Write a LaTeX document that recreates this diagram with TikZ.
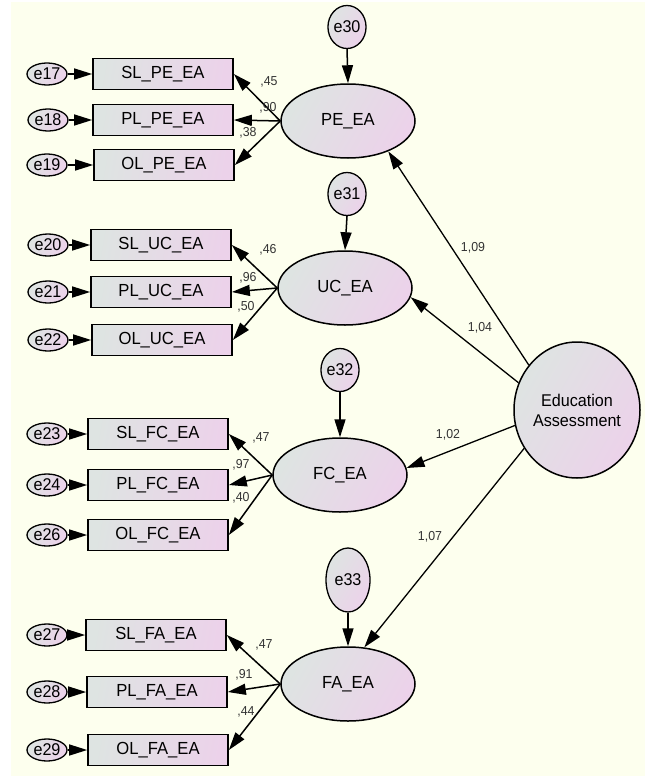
\documentclass[tikz,border=0pt]{standalone}
\usepackage{fontspec}
\setmainfont{Liberation Sans}[FakeStretch=0.95]
\usetikzlibrary{arrows.meta,shapes.geometric}
\definecolor{bg}{RGB}{253,255,238}
\definecolor{lg}{RGB}{222,228,226}
\definecolor{pk}{RGB}{236,210,234}
\begin{document}
\begin{tikzpicture}[x=1pt,y=-1pt,
  obs/.style={draw, line width=1.7pt, rectangle, minimum width=140pt, minimum height=31pt, inner sep=0pt,
    left color=lg, right color=pk, shading angle=80, font=\fontsize{17.5}{17.5}\selectfont},
  err/.style={draw, line width=1.3pt, ellipse, minimum width=40pt, minimum height=22pt, inner sep=0pt,
    left color=lg, right color=pk, shading angle=60, font=\fontsize{17}{17}\selectfont},
  verr/.style={draw, line width=1.3pt, ellipse, minimum width=37pt, minimum height=43pt, inner sep=0pt,
    left color=lg, right color=pk, shading angle=60, font=\fontsize{17}{17}\selectfont},
  lat/.style={draw, line width=1.5pt, ellipse, minimum width=134pt, minimum height=74pt, inner sep=0pt,
    left color=lg, right color=pk, shading angle=60, font=\fontsize{17.5}{17.5}\selectfont},
  coef/.style={font=\fontsize{13}{13}\selectfont, text=black!80, inner sep=0pt},
  arr/.style={line width=1.5pt, -{Triangle[length=18pt,width=11pt]}},
  thinarr/.style={line width=1.3pt, -{Triangle[length=18pt,width=11pt]}}
]
\useasboundingbox (0,0) rectangle (645,776);
\fill[white] (0,0) rectangle (645,776);
\fill[bg] (11,2) rectangle (645,776);

% latent variables
\node[lat] (PE) at (348,121) {PE\_EA};
\node[lat] (UC) at (345,288) {UC\_EA};
\node[lat] (FC) at (340,475) {FC\_EA};
\node[lat] (FA) at (348,684) {FA\_EA};
\node[draw, line width=1.5pt, ellipse, minimum width=126pt, minimum height=136pt, inner sep=0pt,
  left color=lg, right color=pk, shading angle=60, align=center,
  font=\fontsize{17}{20}\selectfont] (EA) at (577,410) {Education\\Assessment};

% residuals of latents
\node[verr] (e30) at (347,27) {e30};
\node[verr] (e31) at (347,194) {e31};
\node[verr] (e32) at (340,370) {e32};
\node[verr, minimum width=44pt, minimum height=64pt] (e33) at (348,580) {e33};

% observed
\node[obs] (SLPE) at (163,74) {SL\_PE\_EA};
\node[obs] (PLPE) at (163,120) {PL\_PE\_EA};
\node[obs] (OLPE) at (164,165) {OL\_PE\_EA};
\node[obs] (SLUC) at (161,245) {SL\_UC\_EA};
\node[obs] (PLUC) at (161,292) {PL\_UC\_EA};
\node[obs] (OLUC) at (162,340) {OL\_UC\_EA};
\node[obs] (SLFC) at (158,434) {SL\_FC\_EA};
\node[obs] (PLFC) at (158,485) {PL\_FC\_EA};
\node[obs] (OLFC) at (158,535) {OL\_FC\_EA};
\node[obs] (SLFA) at (156,635) {SL\_FA\_EA};
\node[obs] (PLFA) at (157,692) {PL\_FA\_EA};
\node[obs] (OLFA) at (158,750) {OL\_FA\_EA};

% error terms of observed
\node[err] (e17) at (47,74) {e17};
\node[err] (e18) at (48,120) {e18};
\node[err] (e19) at (47,165) {e19};
\node[err] (e20) at (48,245) {e20};
\node[err] (e21) at (48,292) {e21};
\node[err] (e22) at (48,340) {e22};
\node[err] (e23) at (47,434) {e23};
\node[err] (e24) at (47,485) {e24};
\node[err] (e26) at (47,535) {e26};
\node[err] (e27) at (47,635) {e27};
\node[err] (e28) at (47,692) {e28};
\node[err] (e29) at (47,750) {e29};

% error arrows
\foreach \e/\o in {e17/SLPE,e18/PLPE,e19/OLPE,e20/SLUC,e21/PLUC,e22/OLUC,e23/SLFC,e24/PLFC,e26/OLFC,e27/SLFA,e28/PLFA,e29/OLFA}
  \draw[arr] (\e.east) -- (\o.west);
\foreach \e/\l in {e30/PE,e31/UC,e32/FC,e33/FA}
  \draw[arr] (\e.south) -- (\l.north);

% loadings
\foreach \l/\a/\b/\c in {PE/SLPE/PLPE/OLPE,UC/SLUC/PLUC/OLUC,FC/SLFC/PLFC/OLFC,FA/SLFA/PLFA/OLFA}{
  \draw[arr] (\l.west) -- (\a.east);
  \draw[arr] (\l.west) -- (\b.east);
  \draw[arr] (\l.west) -- (\c.east);
}

% structural paths
\draw[thinarr] (EA.137) -- (PE.-37);
\draw[thinarr] (EA.155) -- (UC.-8);
\draw[thinarr] (EA.194) -- (FC.6);
\draw[thinarr] (EA.216) -- (FA.66);

% coefficients
\node[coef] (c1) at (269,82) {,45};
\node[coef] (c2) at (268,108) {,90};
\node[coef] (c3) at (248,133) {,38};
\node[coef] (c4) at (268,250) {,46};
\node[coef] (c5) at (248,278) {,96};
\node[coef] (c6) at (246,307) {,50};
\node[coef] (c7) at (261,438) {,47};
\node[coef] (c8) at (241,465) {,97};
\node[coef] (c9) at (241,498) {,40};
\node[coef] (c10) at (264,645) {,47};
\node[coef] (c11) at (244,675) {,91};
\node[coef] (c12) at (246,712) {,44};
\node[coef] (c13) at (473,248) {1,09};
\node[coef] (c14) at (480,328) {1,04};
\node[coef] (c15) at (448,435) {1,02};
\node[coef] (c16) at (430,537) {1,07};
\end{tikzpicture}
\end{document}
